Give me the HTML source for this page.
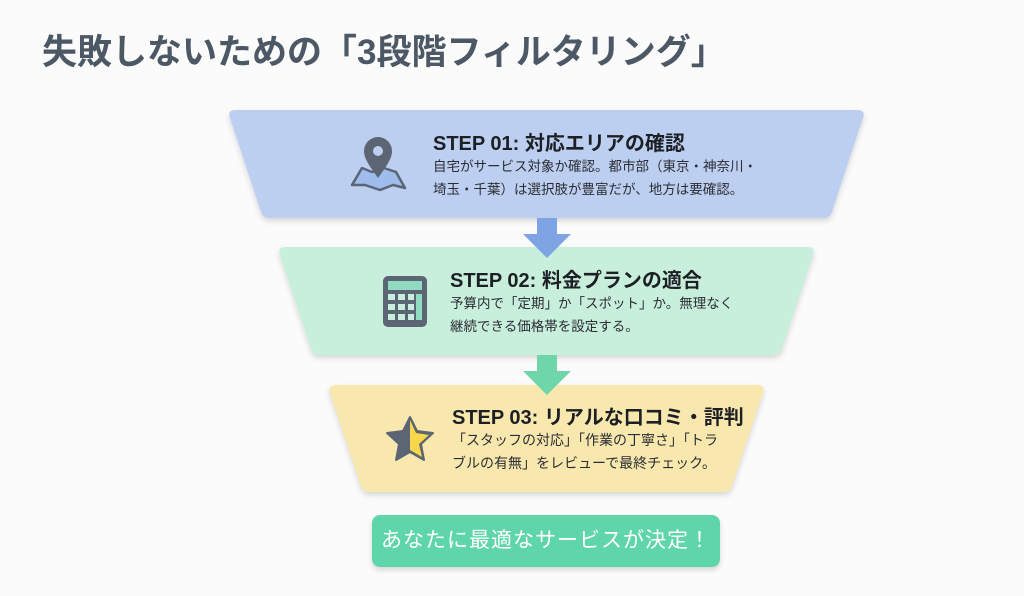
<!DOCTYPE html>
<html><head><meta charset="utf-8"><style>
body{margin:0;width:1024px;height:596px;background:#fbfbfb;font-family:"Liberation Sans","Noto Sans CJK JP",sans-serif;position:relative;overflow:hidden}
.t{position:absolute;white-space:nowrap}
h1{position:absolute;left:42px;top:24px;margin:0;font-size:35px;letter-spacing:0;color:#4d5866;font-weight:700;white-space:nowrap}
.h{font-size:20px;font-weight:700;color:#1c1f24}
.d{font-size:13.5px;color:#2a2d33;line-height:23px}
.btn{position:absolute;left:372px;top:515px;width:348px;height:52px;background:#5fd6a9;border-radius:8px;box-shadow:0 3px 6px rgba(0,0,0,.15);color:#fff;font-size:21px;text-align:center;line-height:52px;letter-spacing:1px}
</style></head><body>
<h1>失敗しないための「3段階フィルタリング」</h1>
<svg width="1024" height="596" style="position:absolute;left:0;top:0">
<defs><filter id="s" x="-10%" y="-10%" width="120%" height="130%"><feDropShadow dx="0" dy="3" stdDeviation="3" flood-opacity="0.15"/></filter></defs>
<path d="M236 110 L857 110 Q866 110 863 118 L832 212 Q830 218 823 218 L270 218 Q263 218 261 212 L230 118 Q227 110 236 110Z" fill="#bdcff1" filter="url(#s)"/>
<path d="M286 247 L807 247 Q816 247 813 255 L782 349 Q780 355 773 355 L320 355 Q313 355 311 349 L280 255 Q277 247 286 247Z" fill="#c8efdc" filter="url(#s)"/>
<path d="M338 385 L757 385 Q766 385 763 393 L732 486 Q730 492 723 492 L370 492 Q363 492 361 486 L330 393 Q327 385 338 385Z" fill="#f8e8ae" filter="url(#s)"/>
<path d="M537 218 L557 218 L557 234 L571 234 L547 258 L523 234 L537 234Z" fill="#7ea4e3"/>
<path d="M537 355 L557 355 L557 371 L571 371 L547 395 L523 371 L537 371Z" fill="#6ed6a8"/>
<path d="M352 185 L362 168 L372 172 L384 168 L396 172 L405 188 L393 185 L380 190 L365 185Z" fill="#9ebcec" stroke="#5b6573" stroke-width="2.5" stroke-linejoin="round"/>
<path d="M378 178 C368 164 364 158 364 151 A14 14 0 0 1 392 151 C392 158 388 164 378 178Z" fill="#5b6573"/>
<circle cx="378" cy="151" r="5" fill="#bdcff1"/>
<rect x="383" y="276" width="44" height="51" rx="5" fill="#5b6573"/>
<rect x="388" y="281" width="34" height="9" fill="#8fdcc0"/>
<g fill="#c8efdc">
<rect x="388" y="294" width="7" height="6"/><rect x="398" y="294" width="7" height="6"/><rect x="408" y="294" width="6" height="6"/>
<rect x="388" y="304" width="7" height="6"/><rect x="398" y="304" width="7" height="6"/><rect x="408" y="304" width="6" height="6"/>
<rect x="388" y="314" width="7" height="6"/><rect x="398" y="314" width="7" height="6"/><rect x="408" y="314" width="6" height="6"/>
</g>
<rect x="416" y="294" width="6" height="26" fill="#8fdcc0"/>
<path d="M410 417 L417 431 L433 433 L421 444 L424 460 L410 452 L396 460 L399 444 L387 433 L403 431Z" fill="#5b6573" stroke="#5b6573" stroke-width="2" stroke-linejoin="round"/>
<path d="M410 420 L416 433 L429 435 L419 444 L422 457 L410 450Z" fill="#f8d84a"/>
</svg>
<div class="t h" style="left:433px;top:127px">STEP 01: 対応エリアの確認</div>
<div class="t d" style="left:433px;top:155px">自宅がサービス対象か確認。都市部（東京・神奈川・<br>埼玉・千葉）は選択肢が豊富だが、地方は要確認。</div>
<div class="t h" style="left:450px;top:264px">STEP 02: 料金プランの適合</div>
<div class="t d" style="left:450px;top:292px">予算内で「定期」か「スポット」か。無理なく<br>継続できる価格帯を設定する。</div>
<div class="t h" style="left:452px;top:401px">STEP 03: リアルな口コミ・評判</div>
<div class="t d" style="left:452px;top:429px;font-size:14px">「スタッフの対応」「作業の丁寧さ」「トラ<br>ブルの有無」をレビューで最終チェック。</div>
<div class="btn">あなたに最適なサービスが決定！</div>
</body></html>
